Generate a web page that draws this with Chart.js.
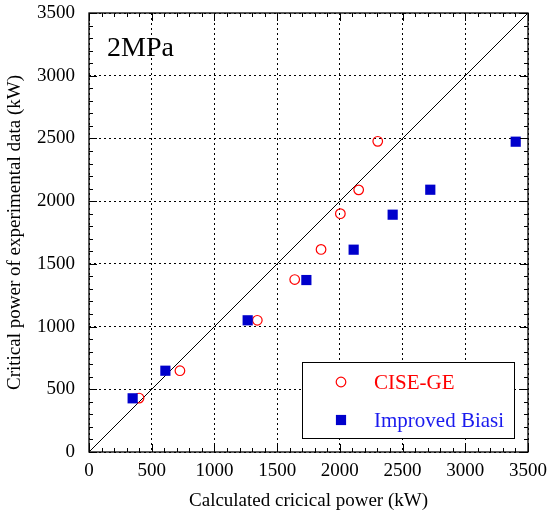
<!DOCTYPE html>
<html>
<head>
<meta charset="utf-8">
<script src="https://cdn.jsdelivr.net/npm/chart.js@4.4.1/dist/chart.umd.min.js"></script>
<style>
    html, body { margin: 0; padding: 0; background: #fff; }
    #wrap { width: 550px; height: 518px; }
</style>
</head>
<body>
<div id="wrap"><canvas id="cpChart" width="550" height="518"></canvas></div>
<script>
// calculated vs. measured critical power, 2 MPa
const ciseCalc = [399, 725, 1342, 1640, 1850, 2004, 2150, 2302];
const ciseExp = [430, 648, 1050, 1375, 1615, 1900, 2090, 2477];
const biasiCalc = [348, 609, 1265, 1733, 2110, 2421, 2721, 3402];
const biasiExp = [428, 648, 1050, 1371, 1613, 1892, 2091, 2474];
const diagonal = [0, 3500];
const axisMax = 3500;
const majorStep = 500;
const minorStep = 100;

const serif = '"Liberation Serif", "DejaVu Serif", serif';

function toPoints(xs, ys) {
    return xs.map((x, i) => ({ x: x, y: ys[i] }));
}

// frame, inward ticks, pressure label and boxed legend
const framePlugin = {
    id: 'framePlugin',
    afterDraw(chart) {
        const ctx = chart.ctx;
        const a = chart.chartArea;
        const xs = chart.scales.x;
        const ys = chart.scales.y;
        ctx.save();
        ctx.strokeStyle = '#000';
        ctx.lineWidth = 1;
        ctx.beginPath();
        for (let v = 0; v <= axisMax; v += minorStep) {
            const len = v % majorStep === 0 ? 8 : 4;
            const px = Math.round(xs.getPixelForValue(v)) + 0.5;
            const py = Math.round(ys.getPixelForValue(v)) + 0.5;
            ctx.moveTo(px, a.bottom); ctx.lineTo(px, a.bottom - len);
            ctx.moveTo(px, a.top); ctx.lineTo(px, a.top + len);
            ctx.moveTo(a.left, py); ctx.lineTo(a.left + len, py);
            ctx.moveTo(a.right, py); ctx.lineTo(a.right - len, py);
        }
        ctx.stroke();
        ctx.lineWidth = 1.3;
        ctx.strokeRect(a.left, a.top, a.right - a.left, a.bottom - a.top);

        ctx.fillStyle = '#000';
        ctx.font = '28px ' + serif;
        ctx.textBaseline = 'alphabetic';
        ctx.fillText('2MPa', a.left + 18, a.top + 43);

        // legend
        const bx = 302, by = 362, bw = 212, bh = 76;
        ctx.fillStyle = '#fff';
        ctx.fillRect(bx, by, bw, bh);
        ctx.lineWidth = 1;
        ctx.strokeStyle = '#000';
        ctx.strokeRect(bx + 0.5, by + 0.5, bw, bh);
        ctx.font = '21px ' + serif;
        ctx.textBaseline = 'middle';
        const sets = chart.data.datasets.filter(d => d.label);
        sets.forEach((d, i) => {
            const cy = by + 20 + i * 38;
            ctx.lineWidth = d.borderWidth;
            ctx.strokeStyle = d.borderColor;
            ctx.fillStyle = d.backgroundColor;
            Chart.helpers.drawPoint(ctx, {
                pointStyle: d.pointStyle, radius: d.pointRadius,
                borderWidth: d.borderWidth, rotation: 0
            }, bx + 39, cy);
            ctx.fillStyle = d.textColor;
            ctx.fillText(d.label, bx + 72, cy + 1);
        });
        ctx.restore();
    }
};

const gridCfg = {
    color: (c) => (c.tick && c.tick.value % majorStep === 0 ? '#000' : 'rgba(0,0,0,0)'),
    lineWidth: 1,
    drawTicks: false
};

const plainNumber = (v) => String(v);

new Chart(document.getElementById('cpChart'), {
    type: 'scatter',
    data: {
        datasets: [
            {
                label: 'CISE-GE',
                data: toPoints(ciseCalc, ciseExp),
                pointStyle: 'circle',
                pointRadius: 4.8,
                borderWidth: 1.2,
                borderColor: '#ff0000',
                backgroundColor: 'rgba(255,255,255,0)',
                textColor: '#ff0000',
                order: 1
            },
            {
                label: 'Improved Biasi',
                data: toPoints(biasiCalc, biasiExp),
                pointStyle: 'rect',
                pointRadius: 7.2,
                borderWidth: 0,
                borderColor: '#0000cc',
                backgroundColor: '#0000cc',
                textColor: '#1a1aee',
                order: 0
            },
            {
                data: toPoints(diagonal, diagonal),
                showLine: true,
                pointRadius: 0,
                borderColor: '#000',
                borderWidth: 1,
                order: 2
            }
        ]
    },
    plugins: [framePlugin],
    options: {
        responsive: false,
        animation: false,
        layout: { padding: { top: 13, right: 22, left: 0, bottom: 0 } },
        plugins: {
            legend: { display: false },
            tooltip: { enabled: false }
        },
        scales: {
            x: {
                type: 'linear',
                min: 0,
                max: axisMax,
                afterFit: (s) => { s.height = 66; s.paddingLeft = 0; s.paddingRight = 0; },
                grid: gridCfg,
                border: { display: false, dash: [2, 3] },
                ticks: { stepSize: majorStep, padding: 8, color: '#000', callback: plainNumber, font: { family: serif, size: 19 } },
                title: { display: true, text: 'Calculated cricical power (kW)', color: '#000', padding: { top: 4, bottom: 6 }, font: { family: serif, size: 19 } }
            },
            y: {
                type: 'linear',
                min: 0,
                max: axisMax,
                afterFit: (s) => { s.width = 89; s.paddingTop = 0; s.paddingBottom = 0; },
                grid: gridCfg,
                border: { display: false, dash: [2, 3] },
                ticks: { stepSize: majorStep, padding: 14, color: '#000', callback: plainNumber, font: { family: serif, size: 19 } },
                title: { display: true, text: 'Critical power of experimental data (kW)', color: '#000', padding: { top: 4, bottom: 2 }, font: { family: serif, size: 19 } }
            }
        }
    }
});
</script>
</body>
</html>
